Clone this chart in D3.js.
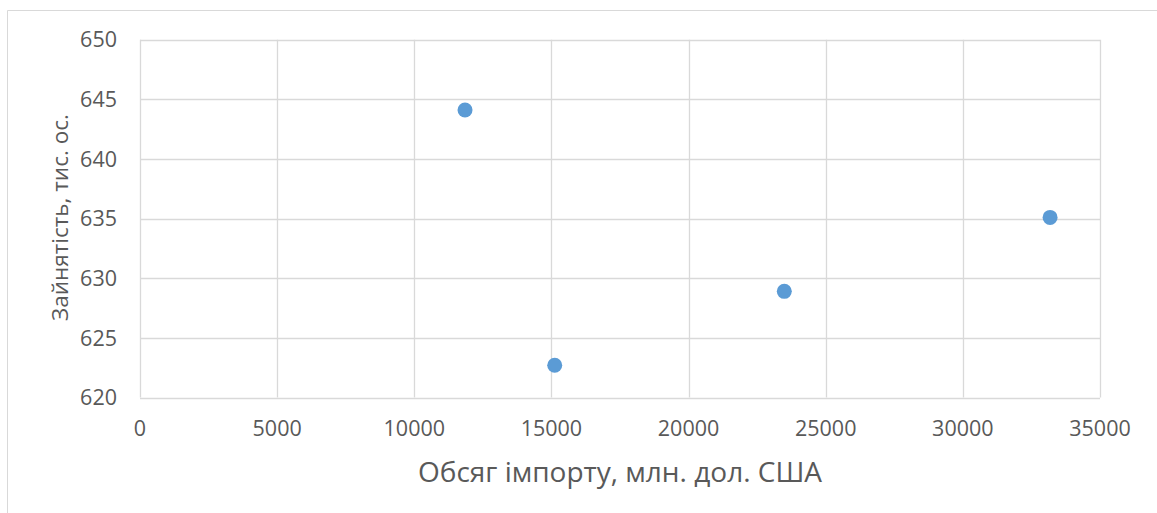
<!DOCTYPE html>
<html><head><meta charset="utf-8">
<script src="https://cdn.jsdelivr.net/npm/d3@7"></script>
<style>body{margin:0;background:#fff}svg{display:block}text{font-family:"Open Sans",sans-serif;fill:#595959}</style>
</head><body><svg id="c" width="1157" height="513"></svg>
<script>
const importVolume = [11850, 15120, 23490, 33180];
const employment = [644.1, 622.7, 628.9, 635.1];
const xTicks = [0,5000,10000,15000,20000,25000,30000,35000];
const yTicks = [620,625,630,635,640,645,650];
const xTitle = "Обсяг імпорту, млн. дол. США";
const yTitle = "Зайнятість, тис. ос.";

const svg = d3.select("#c");
const L=140, R=1100, T=39.7, B=397.5;
const x = d3.scaleLinear().domain([0,35000]).range([L,R]);
const y = d3.scaleLinear().domain([620,650]).range([B,T]);

// outer border
svg.append("path").attr("d","M7.5,513V10.5H1157").attr("fill","none").attr("stroke","#d9d9d9").attr("stroke-width",1);

// grid
svg.append("g").selectAll("line").data(yTicks).join("line")
  .attr("x1",L).attr("x2",R).attr("y1",d=>Math.round(y(d))+0.5).attr("y2",d=>Math.round(y(d))+0.5)
  .attr("stroke","#d9d9d9").attr("stroke-width",1.3);
svg.append("g").selectAll("line").data(xTicks).join("line")
  .attr("y1",T).attr("y2",B).attr("x1",d=>Math.round(x(d))+0.5).attr("x2",d=>Math.round(x(d))+0.5)
  .attr("stroke","#d9d9d9").attr("stroke-width",1.3);

// tick labels
svg.append("g").selectAll("text").data(yTicks).join("text")
  .attr("x",117).attr("y",d=>y(d)).attr("dy","0.36em").attr("text-anchor","end")
  .attr("font-size",21.5).text(d=>d);
svg.append("g").selectAll("text").data(xTicks).join("text")
  .attr("x",d=>x(d)).attr("y",436).attr("text-anchor","middle")
  .attr("font-size",21.5).text(d=>d);

// titles
svg.append("text").attr("x",(L+R)/2).attr("y",482).attr("text-anchor","middle")
  .attr("font-size",28).text(xTitle);
svg.append("text").attr("transform",`translate(68,217.5) rotate(-90)`).attr("text-anchor","middle")
  .attr("font-size",22.5).text(yTitle);

// points
svg.append("g").selectAll("circle").data(importVolume).join("circle")
  .attr("cx",d=>x(d)).attr("cy",(d,i)=>y(employment[i])).attr("r",7.5)
  .attr("fill","#5b9bd5");
</script></body></html>
